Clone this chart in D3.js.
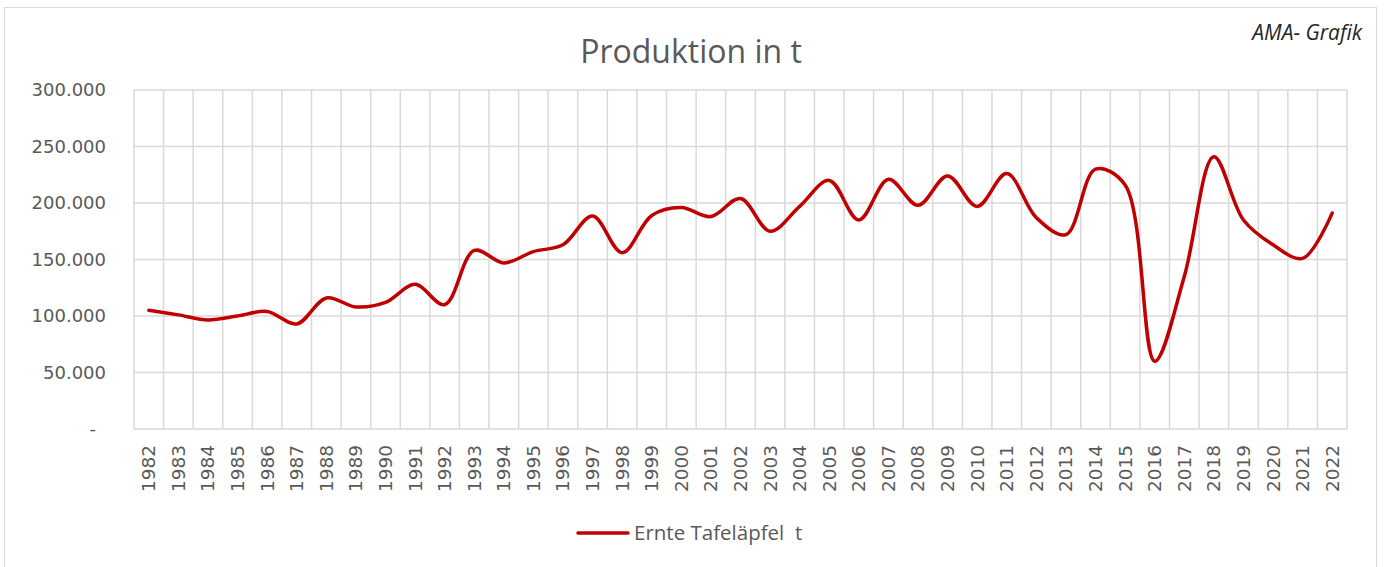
<!DOCTYPE html>
<html>
<head>
<meta charset="utf-8">
<script src="https://cdn.jsdelivr.net/npm/d3@7"></script>
<style>
  body { margin: 0; background: #fff; }
  text { fill: #595959; }
</style>
</head>
<body>
<div id="chart"></div>
<script>
// data
const years = d3.range(1982, 2023).map(String);
const ernte = [105000, 101000, 96500, 100000, 104000, 93000, 116000, 108000, 112000, 128000,
               110000, 158000, 147000, 157000, 163000, 188500, 156000, 189000, 196000, 188000,
               204000, 175000, 197000, 220000, 185000, 221000, 198000, 224000, 197000, 226000,
               187000, 172000, 230000, 216000, 60000, 135000, 241000, 185000, 163000, 151000, 191000];
const yTicks = [0, 50000, 100000, 150000, 200000, 250000, 300000];
const seriesName = "Ernte Tafeläpfel  t";

let config = { svg: {}, plot: {} };
config.svg.width = 1384;
config.svg.height = 567;
config.plot.left = 134;
config.plot.right = 1347;
config.plot.top = 90;
config.plot.bottom = 429;

const svg = d3.select("#chart").append("svg")
  .attr("width", config.svg.width)
  .attr("height", config.svg.height)
  .style("font-family", "'Open Sans', 'Liberation Sans', sans-serif");

// outer frame
svg.append("rect")
  .attr("x", 4.5).attr("y", 7.5)
  .attr("width", 1372).attr("height", 580)
  .attr("fill", "#fff").attr("stroke", "#d9d9d9");

const x = d3.scaleBand().domain(years).range([config.plot.left, config.plot.right]);
const y = d3.scaleLinear().domain([0, 300000]).range([config.plot.bottom, config.plot.top]);

// grid
svg.append("g").selectAll("line")
  .data(yTicks)
  .enter().append("line")
  .attr("x1", config.plot.left).attr("x2", config.plot.right)
  .attr("y1", d => y(d)).attr("y2", d => y(d))
  .attr("stroke", "#d9d9d9").attr("stroke-width", 1.5);

const vlines = years.map(d => x(d)).concat([config.plot.right]);
svg.append("g").selectAll("line")
  .data(vlines)
  .enter().append("line")
  .attr("x1", d => d).attr("x2", d => d)
  .attr("y1", config.plot.top).attr("y2", config.plot.bottom)
  .attr("stroke", "#d9d9d9").attr("stroke-width", 1.5);

// y labels
const fmt = d => d === 0 ? "-" : d3.format(",")(d).replace(/,/g, ".");
svg.append("g").selectAll("text")
  .data(yTicks)
  .enter().append("text")
  .attr("x", d => d === 0 ? 96 : 106)
  .attr("y", d => y(d))
  .attr("dy", "0.35em")
  .attr("text-anchor", "end")
  .style("font-family", "'DejaVu Sans', sans-serif")
  .style("font-size", "18px")
  .text(fmt);

// x labels, rotated
svg.append("g").selectAll("text")
  .data(years)
  .enter().append("text")
  .attr("transform", d => "translate(" + (x(d) + x.bandwidth() / 2) + ",445) rotate(-90)")
  .attr("dy", "0.35em")
  .attr("text-anchor", "end")
  .style("font-family", "'DejaVu Sans', sans-serif")
  .style("font-size", "18.5px")
  .text(d => d);

// line
const line = d3.line()
  .x((d, i) => x(years[i]) + x.bandwidth() / 2)
  .y(d => y(d))
  .curve(d3.curveCatmullRom.alpha(0.5));

svg.append("path")
  .datum(ernte)
  .attr("d", line)
  .attr("fill", "none")
  .attr("stroke", "#c00000")
  .attr("stroke-width", 3.5)
  .attr("stroke-linecap", "round");

// title
svg.append("text")
  .attr("x", 691).attr("y", 63)
  .attr("text-anchor", "middle")
  .style("font-size", "32px")
  .text("Produktion in t");

svg.append("text")
  .attr("x", 1362).attr("y", 40)
  .attr("text-anchor", "end")
  .style("font-size", "21px")
  .style("font-style", "italic")
  .style("fill", "#262626")
  .text("AMA- Grafik");

// legend
svg.append("line")
  .attr("x1", 578).attr("x2", 628)
  .attr("y1", 533).attr("y2", 533)
  .attr("stroke", "#c00000").attr("stroke-width", 3.5)
  .attr("stroke-linecap", "round");
svg.append("text")
  .attr("x", 634).attr("y", 533)
  .attr("dy", "0.35em")
  .style("font-size", "20.5px")
  .style("white-space", "pre")
  .text(seriesName);
</script>
</body>
</html>
